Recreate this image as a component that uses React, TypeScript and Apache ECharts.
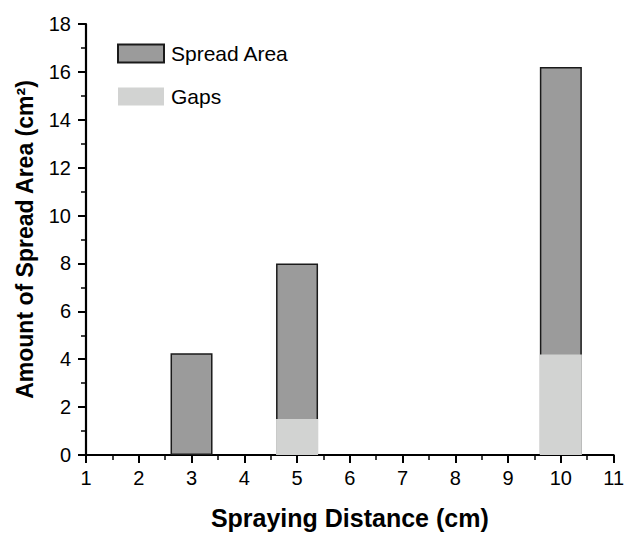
import React, { useEffect, useRef } from "react";
import * as echarts from "echarts";

// Spraying distance (cm) for each measured bar
const distances = [3, 5, 10];
// Total spread area (cm²) at each distance
const spreadArea = [4.25, 8.0, 16.2];
// Uncovered gaps (cm²) inside the spread area
const gaps = [0, 1.5, 4.2];

const xTicks = { min: 1, max: 11, interval: 1 };
const yTicks = { min: 0, max: 18, interval: 2 };

const FONT = "Liberation Sans, Arial, sans-serif";

export default function App() {
  const ref = useRef<HTMLDivElement>(null);

  useEffect(() => {
    if (!ref.current) return;
    const chart = echarts.init(ref.current, undefined, { renderer: "svg" });

    const axisCommon = {
      axisLine: { show: true, lineStyle: { color: "#000", width: 2.2 } },
      axisTick: { show: true, inside: false, length: 8, lineStyle: { color: "#000", width: 2 } },
      minorTick: { show: true, splitNumber: 2, length: 5, lineStyle: { color: "#000", width: 1.5 } },
      splitLine: { show: false },
      nameTextStyle: { color: "#000", fontFamily: FONT, fontWeight: "bold" as const },
    };
    const labelStyle = { color: "#000", fontFamily: FONT, fontSize: 20 };

    chart.setOption({
      animation: false,
      backgroundColor: "#fff",
      grid: { left: 86, right: 12, top: 24, bottom: 77, containLabel: false },
      legend: {
        orient: "vertical",
        left: 117,
        top: 43,
        padding: 0,
        itemWidth: 46,
        itemHeight: 18,
        itemGap: 22,
        icon: "rect",
        textStyle: { color: "#000", fontFamily: FONT, fontSize: 21, lineHeight: 18, padding: [0, 0, 0, 2] },
        data: ["Spread Area", "Gaps"],
      },
      xAxis: {
        type: "value",
        ...xTicks,
        ...axisCommon,
        axisLabel: { ...labelStyle, margin: 13 },
        name: "Spraying Distance (cm)",
        nameLocation: "middle",
        nameGap: 50,
        nameTextStyle: { ...axisCommon.nameTextStyle, fontSize: 25 },
      },
      yAxis: {
        type: "value",
        ...yTicks,
        ...axisCommon,
        axisLabel: { ...labelStyle, margin: 15 },
        name: "Amount of Spread Area (cm²)",
        nameLocation: "middle",
        nameGap: 50,
        nameTextStyle: { ...axisCommon.nameTextStyle, fontSize: 23 },
      },
      series: [
        {
          name: "Spread Area",
          type: "bar",
          barWidth: 42,
          barGap: "-100%",
          itemStyle: { color: "#9b9b9b", borderColor: "#1a1a1a", borderWidth: 1.5 },
          data: distances.map((d, i) => [d, spreadArea[i]]),
        },
        {
          name: "Gaps",
          type: "bar",
          barWidth: 42,
          barGap: "-100%",
          itemStyle: { color: "#d2d3d2" },
          data: distances.map((d, i) => [d, gaps[i]]),
        },
      ],
    });

    return () => chart.dispose();
  }, []);

  return (
    <div
      ref={ref}
      style={{ position: "absolute", left: 0, top: 0, width: 627, height: 535 }}
    />
  );
}
